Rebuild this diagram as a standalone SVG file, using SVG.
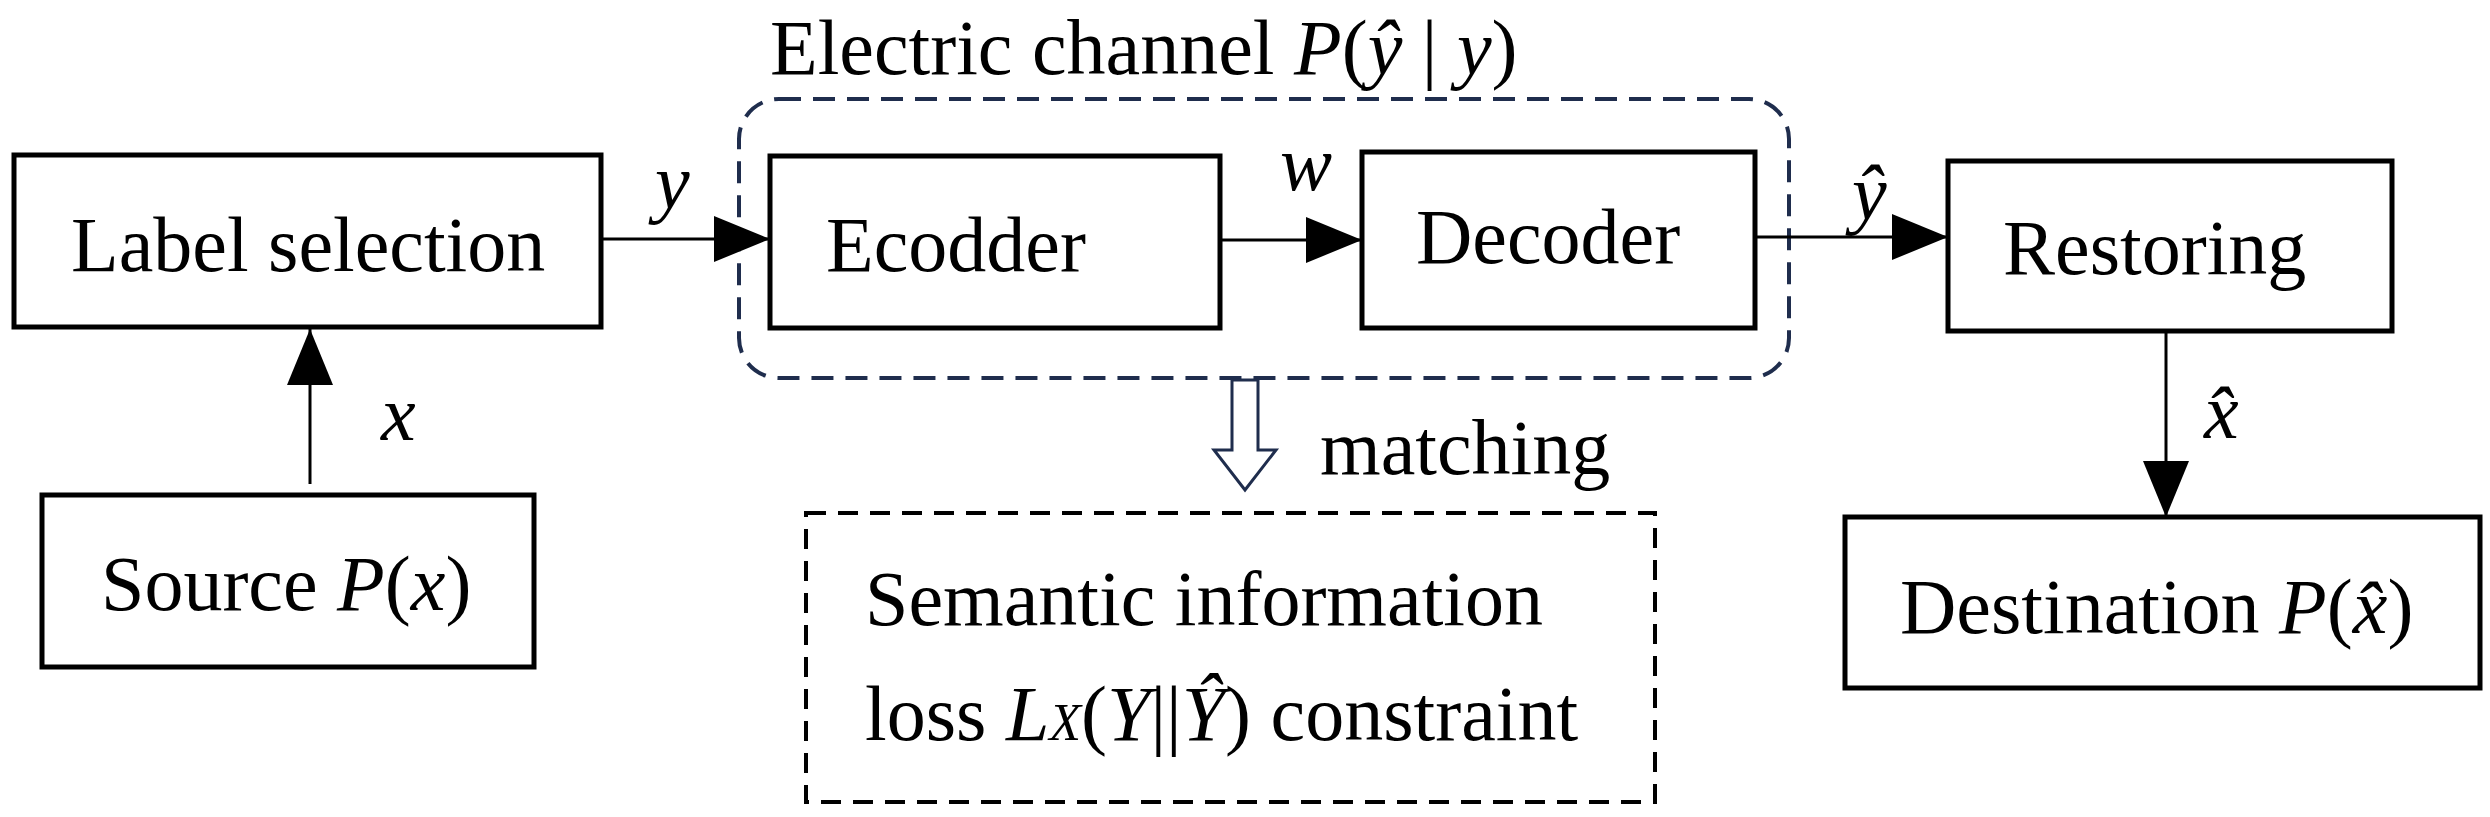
<svg xmlns="http://www.w3.org/2000/svg" width="2490" height="817" viewBox="0 0 2490 817">
<style>
.box{fill:#fff;stroke:#000;stroke-width:5}
.t{font-family:"Liberation Serif",serif;font-size:78px;fill:#000}
.i{font-style:italic}
.c{stroke:#000;stroke-width:3;fill:none}
</style>
<defs>
<marker id="a" markerWidth="56" markerHeight="46" refX="56" refY="23" orient="auto" markerUnits="userSpaceOnUse"><path d="M0,0L56,23L0,46z" fill="#000"/></marker>
</defs>
<rect width="2490" height="817" fill="#fff"/>
<g id="channel">
<rect x="739" y="99" width="1050" height="279" rx="40" fill="none" stroke="#1f2d4d" stroke-width="4" stroke-dasharray="22,12"/>
<text class="t" x="770" y="74" font-size="66">Electric channel <tspan class="i">P</tspan>(<tspan class="i">ŷ</tspan> | <tspan class="i">y</tspan>)</text>
</g>
<g id="label-selection"><rect class="box" x="14" y="155" width="587" height="172"/><text class="t" x="71" y="271">Label selection</text></g>
<g id="source"><rect class="box" x="42" y="495" width="492" height="172"/><text class="t" x="101" y="610">Source <tspan class="i">P</tspan>(<tspan class="i">x</tspan>)</text></g>
<g id="ecodder"><rect class="box" x="770" y="156" width="450" height="172"/><text class="t" x="826" y="271">Ecodder</text></g>
<g id="decoder"><rect class="box" x="1362" y="152" width="393" height="176"/><text class="t" x="1416" y="263">Decoder</text></g>
<g id="restoring"><rect class="box" x="1948" y="161" width="444" height="170"/><text class="t" x="2003" y="274">Restoring</text></g>
<g id="destination"><rect class="box" x="1845" y="517" width="635" height="171"/><text class="t" x="1900" y="633">Destination <tspan class="i">P</tspan>(<tspan class="i">x̂</tspan>)</text></g>
<g id="semantic">
<rect x="806" y="513" width="849" height="289" fill="none" stroke="#000" stroke-width="4" stroke-dasharray="20,12"/>
<text class="t" x="865" y="625">Semantic information</text>
<text class="t" x="865" y="740">loss <tspan class="i">L</tspan><tspan class="i" font-size="52">X</tspan>(<tspan class="i">Y</tspan>||<tspan class="i">Ŷ</tspan>) constraint</text>
</g>
<g id="connectors">
<line class="c" x1="310" y1="484" x2="310" y2="329" marker-end="url(#a)"/>
<line class="c" x1="601" y1="239" x2="770" y2="239" marker-end="url(#a)"/>
<line class="c" x1="1221" y1="240" x2="1362" y2="240" marker-end="url(#a)"/>
<line class="c" x1="1755" y1="237" x2="1948" y2="237" marker-end="url(#a)"/>
<line class="c" x1="2166" y1="331" x2="2166" y2="517" marker-end="url(#a)"/>
<path d="M1232,380L1258,380L1258,450L1276,450L1245,490L1214,450L1232,450Z" fill="#fff" stroke="#1f2d4d" stroke-width="3"/>
<text class="t i" x="381" y="440">x</text>
<text class="t i" x="655" y="208">y</text>
<text class="t i" x="1280" y="190">w</text>
<text class="t i" x="1852" y="219">ŷ</text>
<text class="t i" x="2204" y="438">x̂</text>
<text class="t" x="1320" y="474">matching</text>
</g>
</svg>
